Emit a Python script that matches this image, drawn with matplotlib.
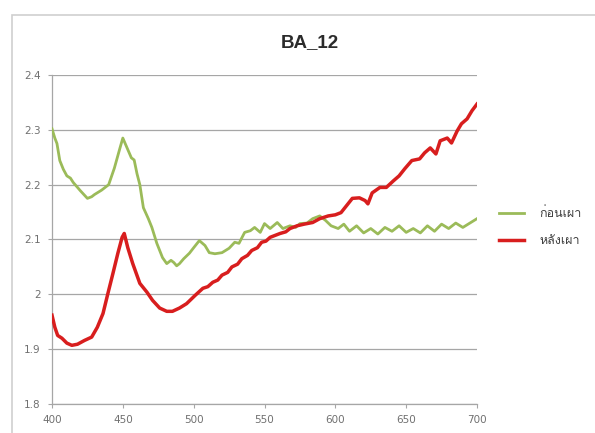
#!/usr/bin/env python3
"""Absorbance spectra of sample BA_12 before/after firing."""

import matplotlib

matplotlib.use("Agg")
import matplotlib.pyplot as plt
from matplotlib import font_manager
from matplotlib.patches import Rectangle

# ก่อนเผา (before firing)
wl_before = [
    400, 402, 403.5, 405.5, 408, 410.5, 413, 415, 420, 425, 428, 430, 435, 440,
    444, 448, 450, 453, 456, 458, 460, 462, 464.5, 468, 470.5, 474, 478, 481,
    484, 486, 488, 490, 493, 497, 500, 504, 508, 511, 515, 520, 525, 529, 532,
    536, 540, 543, 547, 550, 554, 559, 563, 568, 572, 575, 580, 584, 589, 593,
    597, 602, 606, 610, 615, 620, 625, 630, 635, 640, 645, 650, 655, 660, 665,
    670, 675, 680, 685, 690, 695, 700,
]
abs_before = [
    2.302, 2.285, 2.275, 2.244, 2.228, 2.216, 2.212, 2.204, 2.189, 2.175, 2.178,
    2.182, 2.190, 2.200, 2.230, 2.267, 2.285, 2.267, 2.249, 2.245, 2.220, 2.200,
    2.158, 2.138, 2.122, 2.093, 2.067, 2.056, 2.062, 2.058, 2.052, 2.056, 2.065,
    2.075, 2.085, 2.098, 2.089, 2.076, 2.074, 2.076, 2.084, 2.095, 2.093, 2.113,
    2.116, 2.122, 2.113, 2.129, 2.120, 2.131, 2.120, 2.125, 2.122, 2.129, 2.130,
    2.138, 2.143, 2.135, 2.125, 2.120, 2.128, 2.115, 2.125, 2.112, 2.120, 2.110,
    2.122, 2.115, 2.125, 2.113, 2.120, 2.112, 2.125, 2.115, 2.128, 2.120, 2.130,
    2.122, 2.130, 2.138,
]

# หลังเผา (after firing)
wl_after = [
    400, 402, 404, 407, 410.5, 414, 418, 423, 428, 432, 436, 439.5, 443, 446.5,
    449.5, 451, 453.5, 457, 462, 467, 471, 476, 481, 485, 490, 495, 501, 506.5,
    510, 513.5, 517, 520, 524, 527, 531, 534, 538, 541, 545, 548, 551, 554, 558,
    561, 565, 568, 573, 578, 584, 589, 595, 600,
    604, 608, 612, 617, 621, 623, 626, 631.5, 636, 641, 645, 649, 654, 659.5,
    663, 667, 671, 674, 679, 682, 686, 689, 693, 696.5, 700,
]
abs_after = [
    1.962, 1.940, 1.925, 1.920, 1.911, 1.907, 1.909, 1.916, 1.922, 1.940, 1.965,
    2.002, 2.038, 2.075, 2.104, 2.111, 2.085, 2.056, 2.020, 2.004, 1.989, 1.975,
    1.969, 1.969, 1.975, 1.983, 1.998, 2.011, 2.014, 2.022, 2.026, 2.035, 2.040,
    2.050, 2.055, 2.065, 2.071, 2.080, 2.085, 2.095, 2.097, 2.104, 2.108, 2.111,
    2.114, 2.120, 2.125, 2.128, 2.131, 2.138, 2.143, 2.145, 2.149,
    2.162, 2.175, 2.176, 2.171, 2.165, 2.185, 2.195, 2.195, 2.207, 2.216, 2.229,
    2.244, 2.247, 2.258, 2.267, 2.256, 2.280, 2.285, 2.276, 2.298, 2.311, 2.320,
    2.335, 2.347,
]

label_before = "ก่อนเผา"
label_after = "หลังเผา"
title = "BA_12"
x_ticks = [400, 450, 500, 550, 600, 650, 700]
y_ticks = [1.8, 1.9, 2.0, 2.1, 2.2, 2.3, 2.4]
y_tick_labels = ["1.8", "1.9", "2", "2.1", "2.2", "2.3", "2.4"]


def _thai_family() -> str | None:
    try:
        from fontTools.ttLib import TTFont
    except ImportError:
        return None
    for entry in font_manager.fontManager.ttflist:
        try:
            cmap = TTFont(entry.fname, fontNumber=0, lazy=True).getBestCmap()
        except Exception:
            continue
        if cmap and ord("ก") in cmap:
            return entry.name
    return None


thai = _thai_family()
legend_family = [thai, "DejaVu Sans"] if thai else ["DejaVu Sans"]

GREEN = "#9bbb59"
RED = "#d81e1e"
GRID = "#a6a6a6"
TICK_COLOR = "#707070"

fig = plt.figure(figsize=(5.95, 4.33), dpi=100)
fig.patches.append(
    Rectangle((12 / 595, -0.1), 1.2, 1.1 - 15 / 433,
              transform=fig.transFigure, fill=False, edgecolor="#cfcfcf",
              linewidth=1.2, zorder=0)
)

ax = fig.add_axes([52 / 595, 29 / 433, 425 / 595, 329 / 433])
ax.plot(wl_before, abs_before, color=GREEN, linewidth=2.0, label=label_before,
        solid_joinstyle="round", zorder=3)
ax.plot(wl_after, abs_after, color=RED, linewidth=2.5, label=label_after,
        solid_joinstyle="round", zorder=4)

ax.set_xlim(400, 700)
ax.set_ylim(1.8, 2.4)
ax.set_xticks(x_ticks)
ax.set_xticklabels([str(t) for t in x_ticks])
ax.set_yticks(y_ticks)
ax.set_yticklabels(y_tick_labels)
ax.yaxis.grid(True, color=GRID, linewidth=0.9)
ax.set_axisbelow(True)

for side in ("top", "right"):
    ax.spines[side].set_visible(False)
for side in ("left", "bottom"):
    ax.spines[side].set_color(GRID)
    ax.spines[side].set_linewidth(0.9)
ax.tick_params(axis="both", colors=GRID, labelcolor=TICK_COLOR, labelsize=7.5,
               length=3, width=0.8)
ax.tick_params(axis="y", pad=5)
ax.tick_params(axis="x", pad=5)

fig.text(310 / 595, 1 - 43 / 433, title, ha="center", va="center",
         fontsize=13.5, fontweight="bold", color="#2b2b2b",
         family="Liberation Sans")

leg = fig.legend(
    loc="center left",
    bbox_to_anchor=(488 / 595, 1 - 227 / 433),
    frameon=False,
    handlelength=2.0,
    handletextpad=1.2,
    labelspacing=1.2,
    prop={"family": legend_family, "size": 9},
)
for txt in leg.get_texts():
    txt.set_color("#404040")

fig.savefig("out.png", dpi=100)
